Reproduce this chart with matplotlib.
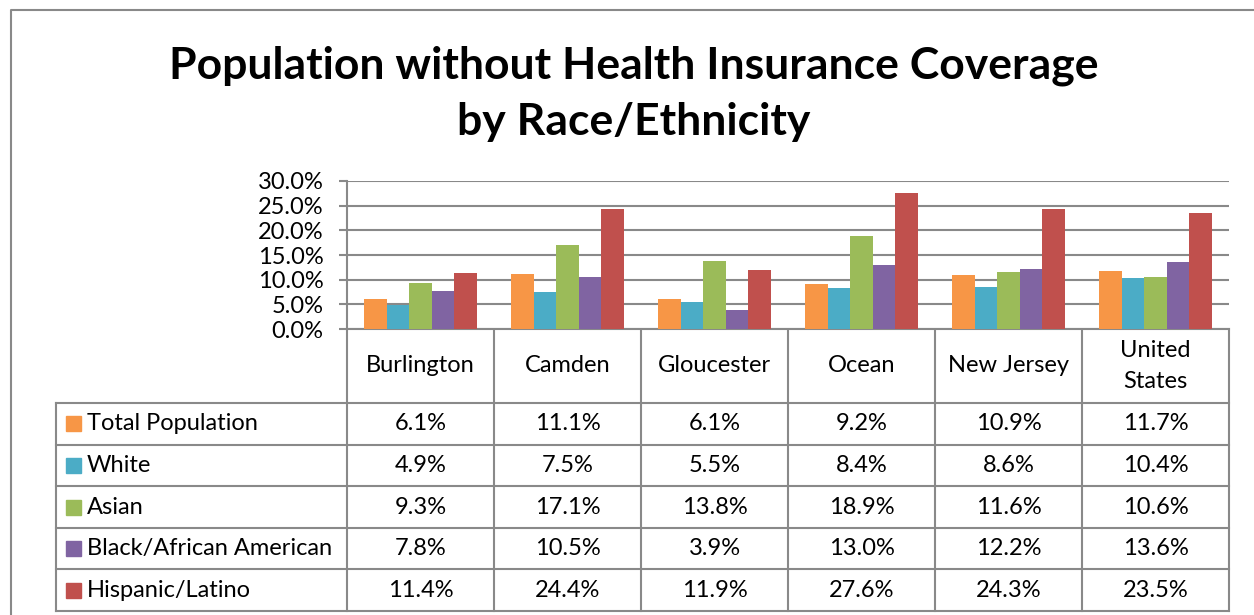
import matplotlib.pyplot as plt
import numpy as np

plt.rcParams['font.family'] = ['Lato', 'DejaVu Sans']

# data
places = ['Burlington', 'Camden', 'Gloucester', 'Ocean', 'New Jersey', 'United\nStates']
groups = ['Total Population', 'White', 'Asian', 'Black/African American', 'Hispanic/Latino']
total_pop = [6.1, 11.1, 6.1, 9.2, 10.9, 11.7]
white = [4.9, 7.5, 5.5, 8.4, 8.6, 10.4]
asian = [9.3, 17.1, 13.8, 18.9, 11.6, 10.6]
black = [7.8, 10.5, 3.9, 13.0, 12.2, 13.6]
hispanic = [11.4, 24.4, 11.9, 27.6, 24.3, 23.5]
y_ticks = [0, 5, 10, 15, 20, 25, 30]

colors = ['#F79646', '#4BACC6', '#9BBB59', '#8064A2', '#C0504D']
series = [total_pop, white, asian, black, hispanic]
gray = '#898989'
fs = 17

W, H = 1254, 615
fig = plt.figure(figsize=(W / 100, H / 100), dpi=100)


def box(x0, y0, x1, y1):
    # pixel box measured from top-left -> figure fraction rect
    return [x0 / W, 1 - y1 / H, (x1 - x0) / W, (y1 - y0) / H]


# layout in pixels
left, right = 347, 1229
plot_top, plot_bot = 181, 329
head_bot, tab_bot = 403, 611
leg_left = 56

# table / frame layer
tab = fig.add_axes([0, 0, 1, 1])
tab.set_xlim(0, W)
tab.set_ylim(H, 0)
tab.axis('off')

# chart border (runs off the right and bottom edge)
tab.plot([11, 11, W + 5], [H + 5, 10, 10], color=gray, lw=1.5)

fig.text(634 / W, 1 - 94 / H,
         'Population without Health Insurance Coverage\nby Race/Ethnicity',
         ha='center', va='center', fontsize=32, fontweight='bold',
         linespacing=1.5)

# bars
ax = fig.add_axes(box(left, plot_top, right, plot_bot))
x = np.arange(len(places))
bw = 1 / 6.5
for i, (vals, c) in enumerate(zip(series, colors)):
    ax.bar(x + (i - 2) * bw, vals, bw, color=c, zorder=3)
ax.set_xlim(-0.5, len(places) - 0.5)
ax.set_ylim(0, 30)
ax.set_yticks(y_ticks)
ax.set_yticklabels([f'{v:.1f}%' for v in y_ticks])
ax.set_xticks([])
ax.yaxis.grid(True, color=gray, lw=1.5, zorder=0)
for s in ['top', 'right']:
    ax.spines[s].set_visible(False)
for s in ['left', 'bottom']:
    ax.spines[s].set_color(gray)
    ax.spines[s].set_linewidth(1.5)
ax.tick_params(axis='y', length=6, width=1.5, color=gray, labelsize=fs, pad=11)

# data table
ncol = len(places)
colw = (right - left) / ncol
rowh = (tab_bot - head_bot) / len(groups)
lk = dict(color=gray, lw=1.5)

# vertical lines
tab.plot([left, left], [plot_bot, tab_bot], **lk)
for k in range(1, ncol + 1):
    xx = left + k * colw
    tab.plot([xx, xx], [plot_bot, tab_bot], **lk)
tab.plot([leg_left, leg_left], [head_bot, tab_bot], **lk)
# horizontal lines
for r in range(len(groups) + 1):
    yy = head_bot + r * rowh
    tab.plot([leg_left, right], [yy, yy], **lk)

# header labels
for k, name in enumerate(places):
    tab.text(left + (k + 0.5) * colw, (plot_bot + head_bot) / 2, name,
             ha='center', va='center', fontsize=fs, linespacing=1.55)

# rows
for r, (g, vals, c) in enumerate(zip(groups, series, colors)):
    yc = head_bot + (r + 0.5) * rowh
    tab.add_patch(plt.Rectangle((66, yc - 7.5), 15, 15, color=c))
    tab.text(87, yc, g, ha='left', va='center', fontsize=fs)
    for k, v in enumerate(vals):
        tab.text(left + (k + 0.5) * colw, yc, f'{v:.1f}%',
                 ha='center', va='center', fontsize=fs)

fig.savefig('out.png', dpi=100)
